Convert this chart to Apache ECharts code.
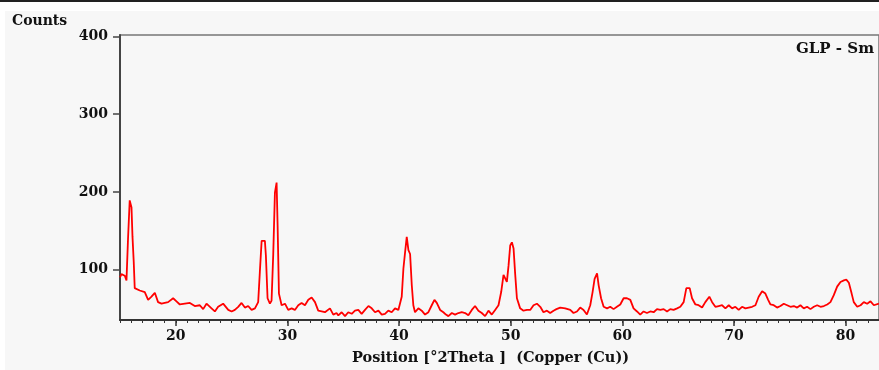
<!DOCTYPE html>
<html>
<head>
<meta charset="utf-8">
<title>GLP - Sm XRD</title>
<script src="https://cdn.jsdelivr.net/npm/echarts@6.0.0/dist/echarts.min.js"></script>
<style>
  body { margin: 0; background: #fff; }
  #topbar { position: absolute; left: 0; top: 0; width: 879px; height: 2px; background: #222; }
  #panel { position: absolute; left: 5px; top: 11px; width: 874px; height: 359px; background: #f7f7f7; }
  #main { position: absolute; left: 0; top: 0; width: 879px; height: 370px; }
</style>
</head>
<body>
<div id="topbar"></div>
<div id="panel"></div>
<div id="main"></div>
<script>
// position in degrees 2theta
const positions = [
  15.0, 15.13, 15.43, 15.58, 15.72, 15.87, 16.03, 16.12, 16.23, 16.32, 16.77, 17.22, 17.52, 17.82,
  18.12, 18.41, 18.72, 19.01, 19.31, 19.76, 20.06, 20.36, 20.81, 21.26, 21.7, 22.15, 22.45, 22.75,
  23.2, 23.5, 23.79, 24.24, 24.4, 24.7, 25.0, 25.29, 25.59, 25.89, 26.19, 26.48, 26.79, 27.09,
  27.38, 27.53, 27.69, 27.83, 27.98, 28.07, 28.22, 28.43, 28.58, 28.73, 28.88, 29.03, 29.12, 29.24,
  29.48, 29.78, 30.07, 30.38, 30.67, 30.97, 31.27, 31.57, 31.87, 32.17, 32.47, 32.76, 33.07, 33.36,
  33.81, 34.11, 34.4, 34.56, 34.86, 35.16, 35.45, 35.76, 36.05, 36.35, 36.65, 36.95, 37.26, 37.55,
  37.85, 38.15, 38.45, 38.74, 39.04, 39.34, 39.64, 39.94, 40.24, 40.39, 40.54, 40.69, 40.84, 40.99,
  41.14, 41.28, 41.43, 41.73, 42.03, 42.33, 42.63, 42.93, 43.17, 43.38, 43.68, 43.97, 44.2, 44.42,
  44.73, 45.02, 45.32, 45.62, 45.92, 46.21, 46.52, 46.81, 47.11, 47.41, 47.71, 48.01, 48.31, 48.61,
  48.91, 49.15, 49.36, 49.51, 49.66, 49.81, 49.96, 50.11, 50.26, 50.4, 50.56, 50.85, 51.15, 51.46,
  51.75, 52.05, 52.35, 52.65, 52.94, 53.25, 53.54, 53.84, 54.1, 54.44, 54.89, 55.34, 55.63, 55.94,
  56.23, 56.53, 56.83, 57.13, 57.34, 57.52, 57.74, 57.88, 58.1, 58.33, 58.64, 58.92, 59.22, 59.52,
  59.82, 60.12, 60.42, 60.72, 61.01, 61.32, 61.61, 61.91, 62.21, 62.51, 62.81, 63.11, 63.41, 63.71,
  64.01, 64.3, 64.6, 64.91, 65.2, 65.5, 65.74, 66.04, 66.25, 66.55, 66.84, 67.15, 67.44, 67.8,
  68.05, 68.34, 68.64, 68.94, 69.24, 69.54, 69.84, 70.13, 70.43, 70.73, 71.03, 71.33, 71.63, 71.93,
  72.22, 72.53, 72.82, 73.07, 73.27, 73.57, 73.87, 74.17, 74.47, 74.77, 75.07, 75.37, 75.67, 75.96,
  76.26, 76.56, 76.86, 77.16, 77.46, 77.76, 78.06, 78.36, 78.65, 78.95, 79.25, 79.55, 79.85, 80.07,
  80.3, 80.55, 80.74, 81.05, 81.35, 81.64, 81.94, 82.24, 82.54, 82.99
];
const counts = [
  90, 94, 92, 86, 140, 189, 180, 142, 110, 76, 73, 71, 61, 65,
  70, 58, 56, 57, 58, 63, 59, 55, 56, 57, 53, 54, 49, 56,
  50, 46, 52, 56, 57, 48, 46, 48, 52, 57, 51, 53, 48, 50,
  58, 97, 137, 139, 137, 118, 63, 56, 60, 120, 199, 212, 157, 69,
  54, 56, 48, 50, 48, 54, 57, 54, 61, 64, 58, 47, 46, 45,
  50, 42, 44, 41, 45, 40, 45, 43, 47, 48, 43, 48, 53, 50,
  45, 47, 42, 43, 47, 45, 50, 48, 65, 101, 122, 142, 125, 120,
  80, 54, 45, 50, 47, 42, 45, 54, 61, 57, 48, 45, 42, 40,
  44, 42, 44, 45, 44, 41, 48, 53, 47, 44, 40, 47, 42, 48,
  54, 71, 93, 95, 84, 105, 131, 135, 127, 95, 63, 50, 47, 48,
  48, 54, 56, 52, 45, 47, 44, 47, 49, 51, 50, 48, 44, 46,
  51, 48, 42, 54, 71, 88, 95, 80, 63, 52, 50, 52, 49, 52,
  55, 63, 63, 61, 50, 46, 42, 46, 44, 46, 45, 49, 48, 49,
  46, 49, 48, 50, 52, 58, 76, 76, 63, 55, 54, 51, 58, 65,
  58, 52, 53, 54, 50, 54, 50, 52, 48, 52, 50, 51, 52, 54,
  65, 72, 69, 61, 55, 54, 51, 53, 56, 54, 52, 53, 51, 54,
  50, 52, 49, 52, 54, 52, 53, 55, 58, 67, 78, 84, 86, 87,
  83, 69, 58, 52, 54, 58, 56, 59, 54, 56
];
const xTickLabels = [20, 30, 40, 50, 60, 70, 80];
const yTickLabels = [100, 200, 300, 400];

const serif = 'DejaVu Serif';
const ink = '#111';

var chart = echarts.init(document.getElementById('main'));

const option = {
  animation: false,
  backgroundColor: 'transparent',
  title: [
    { text: 'Counts', left: 12, top: 14, padding: 0,
      textStyle: { fontFamily: serif, fontWeight: 'bold', fontSize: 14, color: ink } },
    { text: 'GLP - Sm', right: 5, top: 42, padding: 0,
      textStyle: { fontFamily: serif, fontWeight: 'bold', fontSize: 15, color: ink } },
    { text: 'Position [°2Theta ]  (Copper (Cu))', left: 352, top: 351, padding: 0,
      textStyle: { fontFamily: serif, fontWeight: 'bold', fontSize: 14.5, color: ink } }
  ],
  grid: {
    left: 120,
    top: 35,
    right: 0,
    bottom: 50,
    show: true,
    borderColor: '#777',
    borderWidth: 1.5,
    backgroundColor: 'transparent'
  },
  xAxis: [
    {
      // minor ticks every degree
      type: 'value',
      min: 15,
      max: 83,
      interval: 1,
      position: 'bottom',
      axisLine: { show: true, onZero: false, lineStyle: { color: '#333', width: 2 } },
      axisTick: { show: true, length: 3, lineStyle: { color: '#333', width: 1 } },
      axisLabel: { show: false },
      splitLine: { show: false }
    },
    {
      type: 'value',
      min: 15,
      max: 83,
      position: 'bottom',
      axisLine: { show: false, onZero: false },
      axisTick: { show: true, length: 6, customValues: xTickLabels,
        lineStyle: { color: '#333', width: 1.5 } },
      axisLabel: {
        show: true,
        customValues: xTickLabels,
        margin: 9,
        fontFamily: serif,
        fontWeight: 'bold',
        fontSize: 14,
        color: ink
      },
      splitLine: { show: false }
    }
  ],
  yAxis: {
    type: 'value',
    min: 35,
    max: 402,
    axisLine: { show: true, lineStyle: { color: '#444', width: 2 } },
    axisTick: { show: true, length: 7, customValues: yTickLabels,
      lineStyle: { color: '#444', width: 1.5 } },
    axisLabel: {
      customValues: yTickLabels,
      margin: 12,
      fontFamily: serif,
      fontWeight: 'bold',
      fontSize: 14,
      color: ink
    },
    splitLine: { show: false }
  },
  series: [
    {
      type: 'line',
      xAxisIndex: 0,
      showSymbol: false,
      clip: true,
      lineStyle: { color: '#ff0000', width: 1.8 },
      data: positions.map((p, i) => [p, counts[i]])
    }
  ]
};
chart.setOption(option);
</script>
</body>
</html>
